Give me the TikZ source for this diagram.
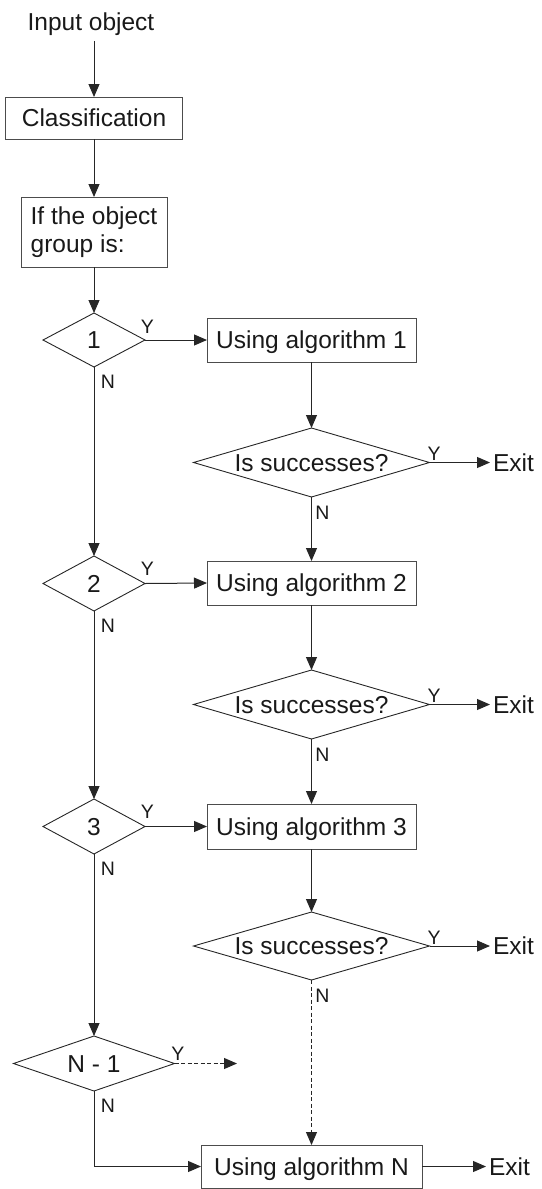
\documentclass[tikz,border=0pt]{standalone}
\usepackage{fontspec}
\setmainfont{Liberation Sans}
\usetikzlibrary{shapes.geometric,arrows.meta}
\begin{document}
\begin{tikzpicture}[x=1pt,y=1pt,
  line/.style={draw=black!85, line width=1pt},
  arr/.style={line, -{Triangle[length=13pt,width=11pt]}},
  darr/.style={arr, dash pattern=on 4pt off 2.5pt},
  txt/.style={font=\fontsize{24.5}{28}\selectfont, text=black!90, inner sep=0pt, outer sep=0pt, text height=17.5pt, text depth=0pt},
  box/.style={txt, draw=black!70, line width=1pt, rectangle},
  dia/.style={txt, draw=black!85, line width=0.9pt, shape=diamond},
  lbl/.style={font=\fontsize{19.5}{22}\selectfont, text=black!90, inner sep=0pt, outer sep=0pt, text height=14pt, text depth=0pt}
]
\useasboundingbox (0,0) rectangle (541,-1189);

% left column
\node[txt] (in) at (91,-21.5) {Input object};
\node[box, minimum width=177pt, minimum height=42pt] (cls) at (94,-118) {Classification};
\node[draw=black!70, line width=1pt, font=\fontsize{24.5}{28}\selectfont, text=black!90, align=left, inner sep=0pt, outer sep=0pt, minimum width=146pt, minimum height=70pt] (grp) at (94,-232) {If the object\\group is:};
\node[dia, minimum width=102pt, minimum height=54pt] (d1) at (94,-340) {\makebox[0pt]{1}};
\node[dia, minimum width=102pt, minimum height=55pt] (d2) at (94,-583.5) {\makebox[0pt]{2}};
\node[dia, minimum width=102pt, minimum height=55pt] (d3) at (94,-826.5) {\makebox[0pt]{3}};
\node[dia, minimum width=161pt, minimum height=55pt] (dn) at (94,-1063.5) {\makebox[0pt]{N - 1}};
\coordinate (yn) at (237,-1063.5);

% right column
\node[box, minimum width=209pt, minimum height=44pt] (b1) at (311.5,-340) {Using algorithm 1};
\node[box, minimum width=209pt, minimum height=44pt] (b2) at (311.5,-583) {Using algorithm 2};
\node[box, minimum width=209pt, minimum height=45pt] (b3) at (311.5,-826.5) {Using algorithm 3};
\node[box, minimum width=221pt, minimum height=43pt] (bn) at (311.5,-1166.5) {Using algorithm N};

\node[dia, minimum width=236pt, minimum height=69pt] (s1) at (311.5,-462.5) {\makebox[0pt]{Is successes?}};
\node[dia, minimum width=236pt, minimum height=69pt] (s2) at (311.5,-704.5) {\makebox[0pt]{Is successes?}};
\node[dia, minimum width=236pt, minimum height=68pt] (s3) at (311.5,-946) {\makebox[0pt]{Is successes?}};

\node[txt, anchor=west] (e1) at (493,-462.5) {Exit};
\node[txt, anchor=west] (e2) at (493,-704.5) {Exit};
\node[txt, anchor=west] (e3) at (493,-946) {Exit};
\node[txt, anchor=west] (en) at (489,-1166.5) {Exit};

% connectors
\draw[arr, shorten <=10.5pt] (in.south -| cls.north) -- (cls.north);
\draw[arr] (cls.south) -- (grp.north);
\draw[arr] (grp.south) -- (d1.north);
\draw[arr] (d1.south) -- (d2.north);
\draw[arr] (d2.south) -- (d3.north);
\draw[arr] (d3.south) -- (dn.north);
\draw[arr] (dn.south) |- (bn.west);
\draw[darr] (dn.east) -- (yn);

\draw[arr] (d1.east) -- (b1.west);
\draw[arr] (d2.east) -- (b2.west);
\draw[arr] (d3.east) -- (b3.west);

\draw[arr] (b1.south) -- (s1.north);
\draw[arr] (s1.south) -- (b2.north);
\draw[arr] (b2.south) -- (s2.north);
\draw[arr] (s2.south) -- (b3.north);
\draw[arr] (b3.south) -- (s3.north);
\draw[darr] (s3.south) -- (bn.north);

\draw[arr, shorten >=3pt] (s1.east) -- (e1.west);
\draw[arr, shorten >=3pt] (s2.east) -- (e2.west);
\draw[arr, shorten >=3pt] (s3.east) -- (e3.west);
\draw[arr, shorten >=3pt] (bn.east) -- (en.west);

% Y / N labels
\node[lbl] (y1) at ([shift={(2.5,14)}]d1.east) {Y};
\node[lbl] (y2) at ([shift={(2.5,15)}]d2.east) {Y};
\node[lbl] (y3) at ([shift={(2.5,15)}]d3.east) {Y};
\node[lbl] (y4) at ([shift={(3.5,10)}]dn.east) {Y};
\node[lbl] (ys1) at ([shift={(4.5,9)}]s1.east) {Y};
\node[lbl] (ys2) at ([shift={(4.5,9)}]s2.east) {Y};
\node[lbl] (ys3) at ([shift={(4.5,9)}]s3.east) {Y};

\node[lbl] (n1) at ([shift={(14,-14)}]d1.south) {N};
\node[lbl] (n2) at ([shift={(14,-14)}]d2.south) {N};
\node[lbl] (n3) at ([shift={(14,-14)}]d3.south) {N};
\node[lbl] (n4) at ([shift={(14,-14)}]dn.south) {N};
\node[lbl] (ns1) at ([shift={(11,-15)}]s1.south) {N};
\node[lbl] (ns2) at ([shift={(11,-15)}]s2.south) {N};
\node[lbl] (ns3) at ([shift={(11,-15)}]s3.south) {N};
\end{tikzpicture}
\end{document}
